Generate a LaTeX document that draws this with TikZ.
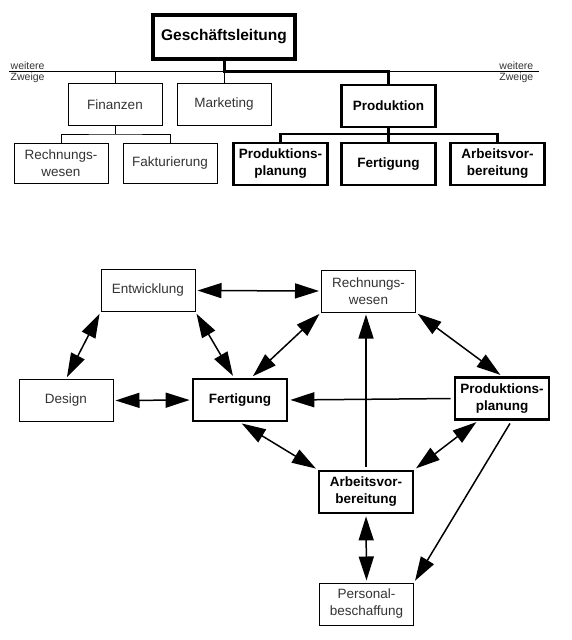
\documentclass[tikz,border=0pt]{standalone}
\usepackage{fontspec}
\setmainfont{Liberation Sans}
\usetikzlibrary{arrows.meta}

\begin{document}
\begin{tikzpicture}[x=1pt, y=-1pt,
	box/.style={draw, line width=1pt, minimum width=94pt, minimum height=42pt, align=center, inner sep=1pt, font=\fontsize{13.5}{17}\selectfont, text=black!80},
	bold/.style={box, line width=2.8pt, font=\fontsize{13.5}{17}\selectfont\bfseries, text=black},
	note/.style={font=\fontsize{10.5}{12}\selectfont, text=black!80, inner sep=1.5pt},
	both/.style={line width=1.5pt, shorten <=2pt, shorten >=2pt, arrows={Triangle[length=24pt,width=15pt]-Triangle[length=24pt,width=15pt]}},
	one/.style={line width=1.5pt, shorten <=3pt, shorten >=2pt, arrows={-Triangle[length=24pt,width=15pt]}}]
	\useasboundingbox (0,0) rectangle (572,640);
	\coordinate (L) at (9,71);
	\coordinate (R) at (539,71);
	\coordinate (S) at (0,134);
	\node[bold, minimum width=142pt, minimum height=44pt, line width=3.5pt, font=\fontsize{15.5}{18}\selectfont\bfseries] (G) at (224,37) {Geschäftsleitung};
	\node[box] (F) at (115,104.5) {Finanzen};
	\node[box] (M) at (224,104.5) {Marketing};
	\node[bold] (P) at (388.5,106) {Produktion};
	\node[box, minimum height=40pt] (R1) at (61,163) {Rechnungs-\\wesen};
	\node[box, minimum height=40pt] (K) at (170,163) {Fakturierung};
	\node[bold] (PP1) at (280.5,164) {Produktions-\\planung};
	\node[bold] (FT1) at (388.5,164) {Fertigung};
	\node[bold] (AV1) at (497.5,164) {Arbeitsvor-\\bereitung};
	\node[note, anchor=south west] (W1) at (L) {weitere};
	\node[note, anchor=north west] (Z1) at (L) {Zweige};
	\node[note, anchor=south east, xshift=-4pt] (W2) at (R) {weitere};
	\node[note, anchor=north east, xshift=-4pt] (Z2) at (R) {Zweige};
	\draw[line width=1pt] (L) -- (R);
	\draw[line width=1pt] (F.north) -- (F.north |- L);
	\draw[line width=1pt] (M.north) -- (M.north |- L);
	\draw[line width=3pt] (G.south) -- (G.south |- L) -- (P.north |- L) -- (P.north);
	\draw[line width=1pt] (F.south) -- (F.south |- S);
	\draw[line width=1pt] (R1.north) |- (F.south |- S) -| (K.north);
	\draw[line width=2.8pt] (PP1.north) |- (P.south |- S) -| (AV1.north);
	\draw[line width=2.8pt] (P.south) -- (FT1.north);

	\node[box] (E) at (148,290.5) {Entwicklung};
	\node[box] (R2) at (368.5,291) {Rechnungs-\\wesen};
	\node[box] (D) at (66,400.5) {Design};
	\node[bold] (FT2) at (240,400) {Fertigung};
	\node[bold] (PP2) at (502,398.5) {Produktions-\\planung};
	\node[bold] (AV2) at (366,492) {Arbeitsvor-\\bereitung};
	\node[box] (PB) at (366.5,604) {Personal-\\beschaffung};
	\draw[both] (E.east) to (R2.west);
	\draw[both] (E.south west) to (D.north);
	\draw[both] (E.south east) to (FT2.105);
	\draw[both] (R2.south west) to (FT2.63);
	\draw[both] (D.east) to (FT2.west);
	\draw[one] (PP2.west) to (FT2.east);
	\draw[one] (AV2.north) to (AV2.north |- R2.south);
	\draw[both] (R2.south east) to (PP2.north);
	\draw[both] (FT2.south) to (AV2.north west);
	\draw[both] (PP2.-137) to (AV2.north east);
	\draw[one] (PP2.-67) to (PB.north east);
	\draw[both] (AV2.south) to (PB.north);
\end{tikzpicture}
\end{document}
